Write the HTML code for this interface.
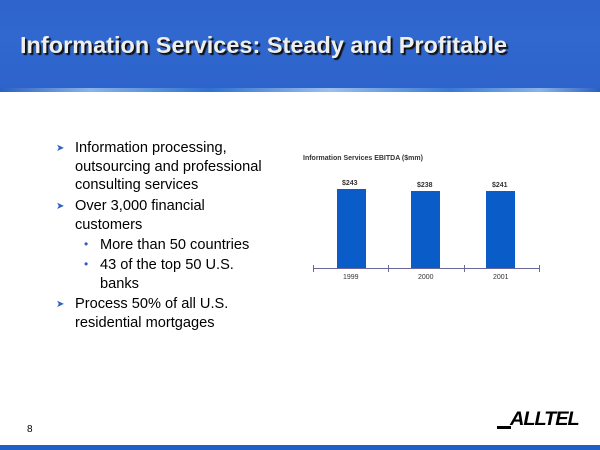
<!DOCTYPE html>
<html><head><style>
body{margin:0;width:600px;height:450px;position:relative;background:#fff;font-family:"Liberation Sans",sans-serif;overflow:hidden}
.hdr{position:absolute;left:0;top:0;width:600px;height:90px;background:linear-gradient(180deg,#2e64cc 0%,#3068cf 40%,#2d63cb 100%)}
.stripe{position:absolute;left:0;top:88px;width:600px;height:4px;background:linear-gradient(90deg,#2a60c0,#8ab4e8 15%,#3070d0 35%,#9cc0ec 55%,#3a78d4 75%,#8ab4e8 90%,#2a60c0)}
.title{position:absolute;left:20px;top:32px;font-size:23.5px;font-weight:bold;color:#eee;text-shadow:2px 2px 1px #111;white-space:nowrap}
.t{position:absolute;font-size:14.6px;color:#000;white-space:nowrap;line-height:18.5px}
.ar{position:absolute;font-size:10px;color:#2d5fc8}
.dot{position:absolute;font-size:12px;color:#2d5fc8}
.bot{position:absolute;left:0;top:445px;width:600px;height:5px;background:#1f5fc8}
.bar{position:absolute;background:#0a5cc8;width:29px}
.s{position:absolute;font-size:7px;color:#333;white-space:nowrap}
</style></head><body>
<div class="hdr"></div><div class="stripe"></div>
<div class="title">Information Services: Steady and Profitable</div>
<div class="ar" style="left:56px;top:143px">➤</div>
<div class="t" style="left:75px;top:139px">Information processing,<br>outsourcing and professional<br>consulting services</div>
<div class="ar" style="left:56px;top:201px">➤</div>
<div class="t" style="left:75px;top:197px">Over 3,000 financial<br>customers</div>
<div class="dot" style="left:84px;top:237px">•</div>
<div class="t" style="left:100px;top:236px">More than 50 countries</div>
<div class="dot" style="left:84px;top:257px">•</div>
<div class="t" style="left:100px;top:256px">43 of the top 50 U.S.<br>banks</div>
<div class="ar" style="left:56px;top:299px">➤</div>
<div class="t" style="left:75px;top:295px">Process 50% of all U.S.<br>residential mortgages</div>
<div class="s" style="left:303px;top:155px;font-weight:bold">Information Services EBITDA ($mm)</div>
<div class="s" style="left:342px;top:180px;font-weight:bold">$243</div>
<div class="s" style="left:417px;top:182px;font-weight:bold">$238</div>
<div class="s" style="left:492px;top:182px;font-weight:bold">$241</div>
<div class="bar" style="left:337px;top:189px;height:79px"></div>
<div class="bar" style="left:411px;top:191px;height:77px"></div>
<div class="bar" style="left:486px;top:191px;height:77px"></div>
<svg style="position:absolute;left:0;top:0" width="600" height="450"><g stroke="#6a6a9a" stroke-width="1"><line x1="313" y1="268.5" x2="540" y2="268.5"/><line x1="313.5" y1="265" x2="313.5" y2="272"/><line x1="388.5" y1="265" x2="388.5" y2="272"/><line x1="464.5" y1="265" x2="464.5" y2="272"/><line x1="539.5" y1="265" x2="539.5" y2="272"/></g></svg>
<div class="s" style="left:343px;top:274px">1999</div>
<div class="s" style="left:418px;top:274px">2000</div>
<div class="s" style="left:493px;top:274px">2001</div>
<div style="position:absolute;left:27px;top:424px;font-size:10px">8</div>
<div style="position:absolute;left:497px;top:426px;width:14px;height:3px;background:#000"></div>
<div style="position:absolute;left:510px;top:409px;font-size:19px;font-weight:900;font-style:italic;letter-spacing:-1px;color:#000;transform:scaleX(1.05);transform-origin:left">ALLTEL</div>
<div class="bot"></div>
</body></html>
